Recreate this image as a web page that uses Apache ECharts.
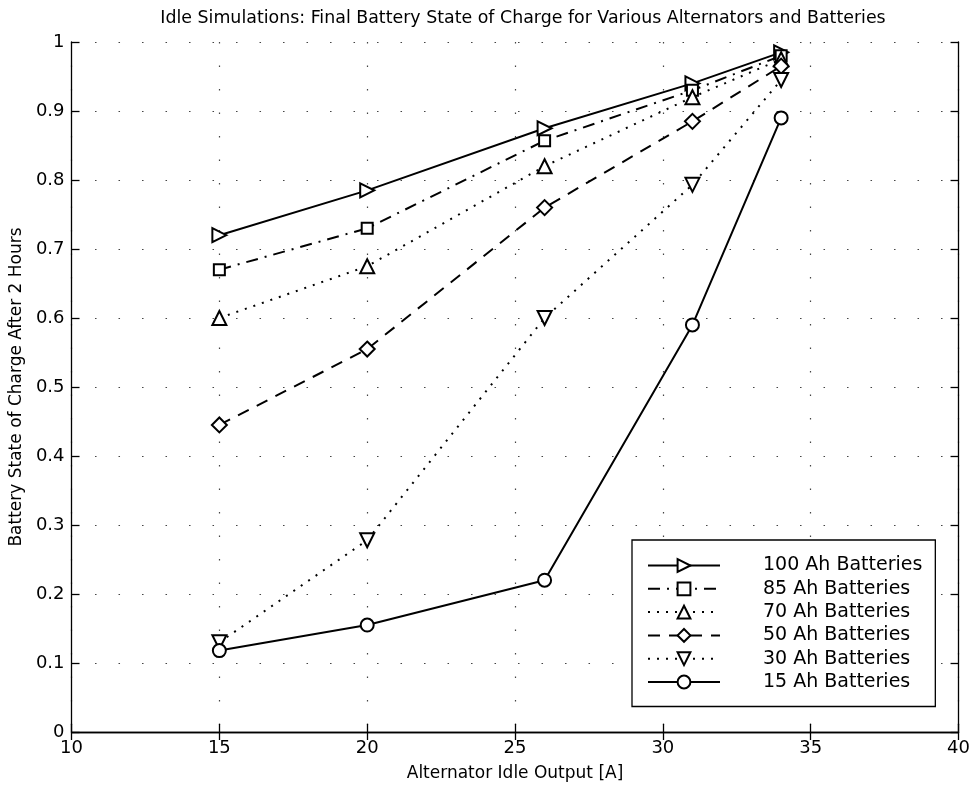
<!DOCTYPE html>
<html>
<head>
<meta charset="utf-8">
<script src="https://cdn.jsdelivr.net/npm/echarts@6/dist/echarts.min.js"></script>
<style>
html,body{margin:0;padding:0;background:#fff;}
#chart{width:973px;height:787px;}
</style>
</head>
<body>
<div id="chart"></div>
<script>
const xValues = [15, 20, 26, 31, 34];
const seriesNames = ['100 Ah Batteries', '85 Ah Batteries', '70 Ah Batteries', '50 Ah Batteries', '30 Ah Batteries', '15 Ah Batteries'];
const ah100 = [0.720, 0.785, 0.875, 0.940, 0.985];
const ah85  = [0.670, 0.730, 0.857, 0.930, 0.980];
const ah70  = [0.600, 0.675, 0.820, 0.920, 0.975];
const ah50  = [0.445, 0.555, 0.760, 0.885, 0.965];
const ah30  = [0.130, 0.278, 0.600, 0.793, 0.945];
const ah15  = [0.118, 0.155, 0.220, 0.590, 0.890];
const xTicks = [10, 15, 20, 25, 30, 35, 40];
const yTicks = [0, 0.1, 0.2, 0.3, 0.4, 0.5, 0.6, 0.7, 0.8, 0.9, 1];

const FONT = 'DejaVu Sans';
const seriesValues = [ah100, ah85, ah70, ah50, ah30, ah15];
const styles = [
  {type: 'solid', symbol: 'emptyTriangle', rotate: -90, size: 14},
  {type: [12, 7, 2, 7], symbol: 'emptyRect', rotate: 0, size: 11},
  {type: [2, 7], symbol: 'emptyTriangle', rotate: 0, size: 14},
  {type: [12, 9], symbol: 'emptyDiamond', rotate: 0, size: 15},
  {type: [2, 7], symbol: 'emptyTriangle', rotate: 180, size: 14},
  {type: 'solid', symbol: 'emptyCircle', rotate: 0, size: 13}
];

const series = seriesValues.map((vals, i) => ({
  name: seriesNames[i],
  type: 'line',
  data: vals.map((v, j) => [xValues[j], v]),
  symbol: styles[i].symbol,
  symbolSize: styles[i].size,
  symbolRotate: styles[i].rotate,
  showAllSymbol: true,
  lineStyle: {color: '#000', width: 2, type: styles[i].type},
  itemStyle: {color: '#000', borderColor: '#000', borderWidth: 1.8},
  emphasis: {disabled: true},
  animation: false
}));

const gridDots = {show: true, lineStyle: {color: '#444', width: 1.2, type: [1.5, 22]}};

const chart = echarts.init(document.getElementById('chart'), null, {renderer: 'canvas'});
chart.setOption({
  backgroundColor: '#fff',
  animation: false,
  title: {
    text: 'Idle Simulations: Final Battery State of Charge for Various Alternators and Batteries',
    left: 518, top: 5, textAlign: 'center',
    textStyle: {fontFamily: FONT, fontSize: 17.4, fontWeight: 'normal', color: '#000'}
  },
  grid: {left: 71, right: 11, top: 42, bottom: 54, containLabel: false},
  xAxis: [{
    type: 'value', min: xTicks[0], max: xTicks[xTicks.length - 1], interval: 5,
    name: 'Alternator Idle Output [A]', nameLocation: 'middle', nameGap: 33,
    nameTextStyle: {fontFamily: FONT, fontSize: 17, color: '#000'},
    axisLine: {show: true, lineStyle: {color: '#000', width: 1.3}},
    axisTick: {show: true, inside: true, length: 8, lineStyle: {color: '#000', width: 1.3}},
    axisLabel: {fontFamily: FONT, fontSize: 18, color: '#000', margin: 7},
    splitLine: gridDots
  }, {
    type: 'value', position: 'top', min: xTicks[0], max: xTicks[xTicks.length - 1], interval: 5,
    axisLine: {show: true, lineStyle: {color: '#000', width: 1.3}},
    axisTick: {show: true, inside: true, length: 8, lineStyle: {color: '#000', width: 1.3}},
    axisLabel: {show: false}, splitLine: {show: false}
  }],
  yAxis: [{
    type: 'value', min: yTicks[0], max: yTicks[yTicks.length - 1], interval: 0.1,
    name: 'Battery State of Charge After 2 Hours', nameLocation: 'middle', nameGap: 43,
    nameTextStyle: {fontFamily: FONT, fontSize: 17, color: '#000'},
    axisLine: {show: true, lineStyle: {color: '#000', width: 1.3}},
    axisTick: {show: true, inside: true, length: 8, lineStyle: {color: '#000', width: 1.3}},
    axisLabel: {fontFamily: FONT, fontSize: 18, color: '#000', margin: 7},
    splitLine: gridDots
  }, {
    type: 'value', position: 'right', min: yTicks[0], max: yTicks[yTicks.length - 1], interval: 0.1,
    axisLine: {show: true, lineStyle: {color: '#000', width: 1.3}},
    axisTick: {show: true, inside: true, length: 8, lineStyle: {color: '#000', width: 1.3}},
    axisLabel: {show: false}, splitLine: {show: false}
  }],
  legend: {
    show: true, orient: 'vertical', left: 632, top: 540,
    data: seriesNames,
    itemWidth: 72, itemHeight: 16, itemGap: 4.3,
    padding: [16, 13, 15, 15],
    borderColor: '#000', borderWidth: 1.3, backgroundColor: '#fff',
    textStyle: {fontFamily: FONT, fontSize: 19, color: '#000', lineHeight: 16, padding: [0, 0, 0, 38]},
    selectedMode: false
  },
  series: series
});
</script>
</body>
</html>
